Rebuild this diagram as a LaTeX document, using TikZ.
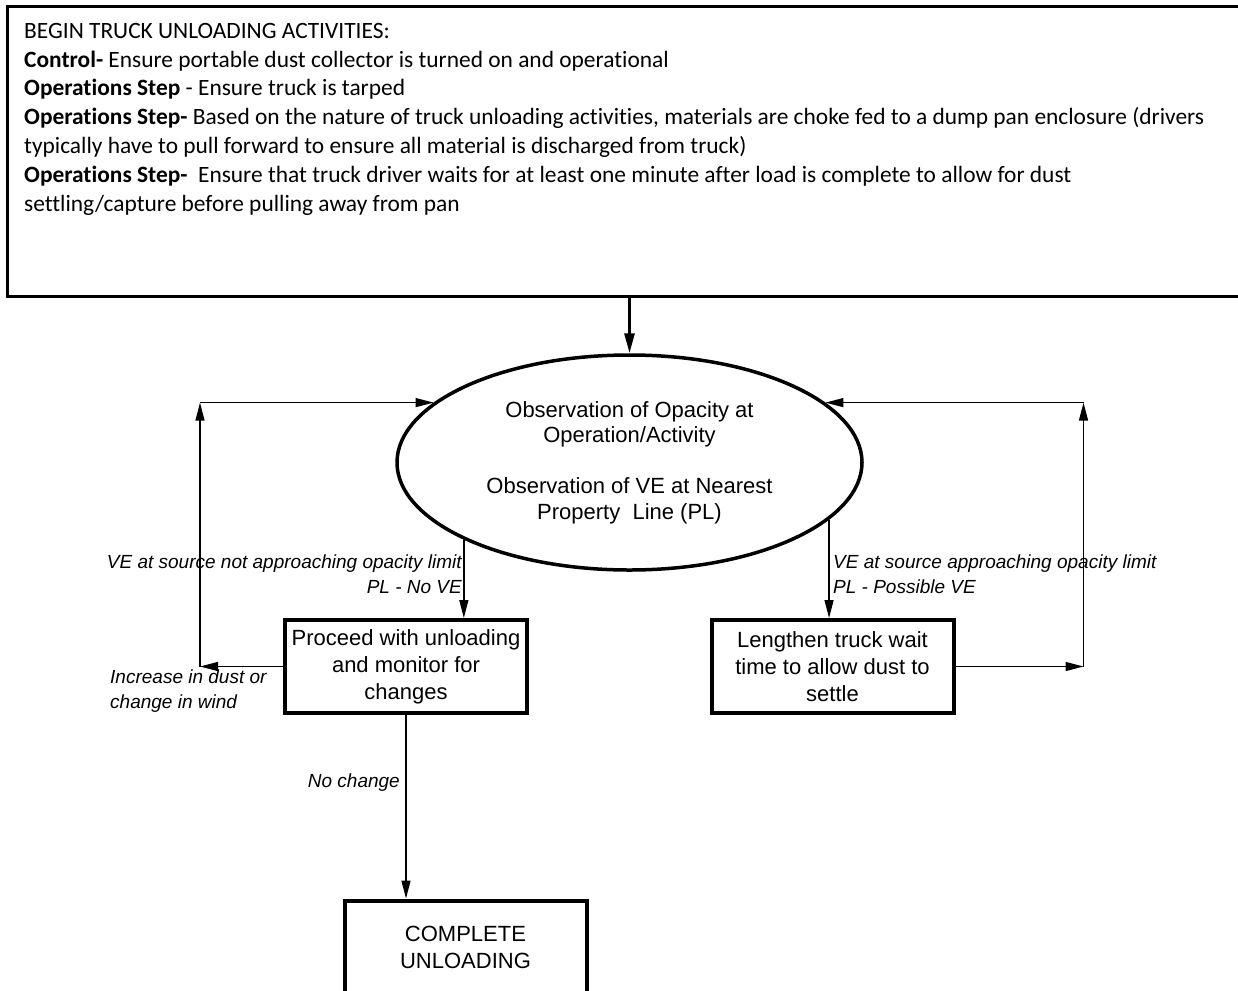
\documentclass[tikz,border=0pt]{standalone}
\usepackage{fontspec}
\setmainfont{Liberation Sans}
\newfontfamily\calibri[Ligatures=NoCommon]{Carlito}
\usetikzlibrary{arrows.meta,shapes.geometric}

\begin{document}
\begin{tikzpicture}[x=1pt,y=-1pt,
  box/.style={draw, line width=4pt, rectangle, minimum width=242pt, minimum height=93pt,
    inner sep=0pt, align=center, font=\fontsize{22}{27}\selectfont},
  oval/.style={draw, ellipse, line width=3.5pt, minimum width=465pt, minimum height=215pt,
    inner sep=0pt, align=center, font=\fontsize{22}{25.5}\selectfont},
  flow/.style={line width=1.3pt, -{Triangle[length=18pt,width=9pt]}},
  lbl/.style={inner sep=0pt, font=\fontsize{19}{25}\selectfont\itshape},
]
\useasboundingbox (0,0) rectangle (1238,990);
\clip (0,0) rectangle (1238,990);

% instruction panel across the top
\node[draw, line width=3pt, rectangle, minimum width=1260pt, minimum height=289pt,
  inner sep=0pt, anchor=north west] (top) at (5.5,5.5) {};
% the base anchor of a multi-line node sits on its last line
\node[anchor=base west, inner sep=0pt, align=left,
  font=\calibri\fontsize{23.4}{28.8}\selectfont] (toptext) at (24,211)
  {BEGIN TRUCK UNLOADING ACTIVITIES:\\
   \textbf{Control-} Ensure portable dust collector is turned on and operational\\
   \textbf{Operations Step} - Ensure truck is tarped\\
   \textbf{Operations Step-} Based on the nature of truck unloading activities, materials are choke fed to a dump pan enclosure (drivers\\
   typically have to pull forward to ensure all material is discharged from truck)\\
   \textbf{Operations Step-}\ \ Ensure that truck driver waits for at least one minute after load is complete to allow for dust\\
   settling/capture before pulling away from pan};

% observation step
\node[oval] (obs) at (629.5,462.5)
  {Observation of Opacity at\\Operation/Activity\\[25.5pt]Observation of VE at Nearest\\Property\ \ Line (PL)};

% outcome boxes
\node[box] (proceed) at (406,666.5) {Proceed with unloading\\and monitor for\\changes};
\node[box] (lengthen) at (832.5,666.5) {Lengthen truck wait\\time to allow dust to\\settle};
\node[box] (complete) at (465.5,947) {COMPLETE\\UNLOADING};

% main flow
\draw[line width=3pt, -{Triangle[length=20pt,width=10pt]}] (top.south -| obs.north) -- (obs.north);
\draw[flow] (obs.205) -- (obs.205 |- proceed.north);
\draw[flow] (obs.344) -- (obs.344 |- lengthen.north);
\draw[flow] (proceed.south) -- (proceed.south |- complete.north);

% left feedback loop
\path (proceed.west) ++(-83,0) coordinate (lb);
\coordinate (lt) at (lb |- obs.163);
\draw[flow] (proceed.west) -- (lb);
\draw[flow] (lb) -- (lt);
\draw[flow] (lt) -- (obs.163);

% right feedback loop
\path (lengthen.east) ++(128,0) coordinate (rb);
\coordinate (rt) at (rb |- obs.17);
\draw[flow] (lengthen.east) -- (rb);
\draw[flow] (rb) -- (rt);
\draw[flow] (rt) -- (obs.17);

% connector labels
\node[lbl, anchor=east, align=right] (lblno) at (462,574.5)
  {VE at source not approaching opacity limit\\PL - No VE};
\node[lbl, anchor=west, align=left] (lblyes) at (833,574.5)
  {VE at source approaching opacity limit\\PL - Possible VE};
\node[lbl, anchor=west, align=left] (lblchg) at (110,691.5)
  {Increase in dust or\\change in wind};
\node[lbl, anchor=east] (lblnc) at (400,783) {No change};
\end{tikzpicture}
\end{document}
